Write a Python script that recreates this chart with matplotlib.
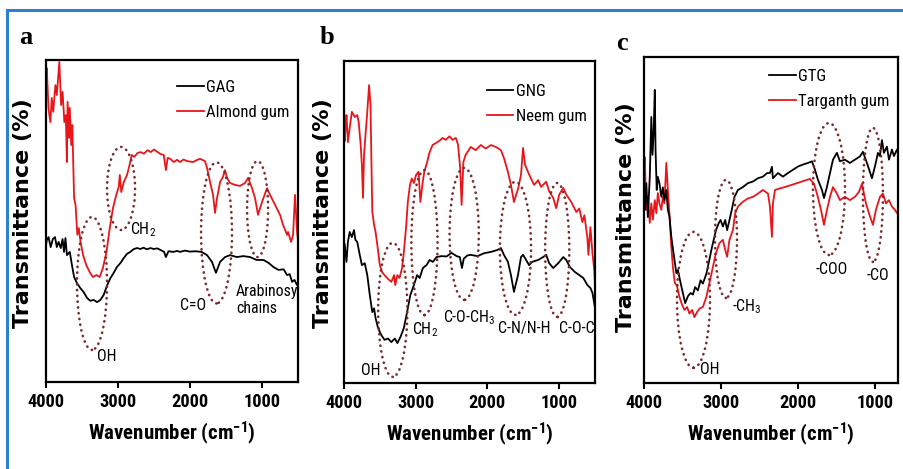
import matplotlib
matplotlib.use("Agg")
import matplotlib.pyplot as plt
from matplotlib import font_manager
from matplotlib.patches import Ellipse
from matplotlib.lines import Line2D

# use a condensed sans when one is installed, otherwise Liberation Sans at smaller sizes
names = {f.name for f in font_manager.fontManager.ttflist}
sans, k = "Liberation Sans", 1.0
for cand in ("Liberation Sans Narrow", "Roboto Condensed", "Open Sans Condensed"):
    if cand in names:
        sans, k = cand, 1.2
        break
plt.rcParams["font.family"] = [sans, "DejaVu Sans"]
plt.rcParams["mathtext.fontset"] = "custom"
plt.rcParams["mathtext.rm"] = sans
plt.rcParams["mathtext.it"] = sans
plt.rcParams["mathtext.bf"] = sans + ":bold"

# ---- spectra: (wavenumber cm-1, transmittance a.u.) ----
gag = [(4000, 42.5), (3990, 44), (3965, 45), (3935, 41.9), (3905, 44.4), (3875, 45), (3850, 41.9),
       (3825, 43.5), (3795, 41.6), (3770, 44.4), (3750, 40.4), (3730, 44.7), (3710, 39.4), (3670, 40.4),
       (3640, 36.3), (3610, 32.6), (3570, 30.7), (3525, 29.2), (3480, 28), (3430, 26.1), (3385, 25.2),
       (3340, 25.5), (3290, 24.8), (3245, 25.5), (3200, 27), (3150, 30.1), (3105, 32.3), (3060, 33.9),
       (3015, 35.7), (2965, 37), (2920, 38.5), (2875, 39.8), (2830, 40.4), (2780, 41.3), (2735, 41.6),
       (2690, 41.3), (2645, 41.7), (2600, 41.2), (2550, 41.6), (2505, 41.3), (2455, 41.5), (2410, 41),
       (2360, 40.4), (2335, 38.8), (2300, 40.6), (2230, 40.4), (2180, 40.7), (2139, 40.4), (2070, 40.8),
       (2000, 40.5), (1920, 40.6), (1840, 40.4), (1764, 39.4), (1695, 37.3), (1640, 33.9), (1583, 37.3),
       (1514, 38.8), (1444, 39.4), (1350, 38.8), (1260, 39.1), (1167, 38.8), (1075, 37.9), (980, 37.9),
       (910, 37), (841, 35.7), (772, 34.8), (700, 35), (653, 33.2), (616, 33.5), (583, 31.1), (550, 31.7),
       (514, 30.1), (500, 31)]

almond = [(4000, 90), (3990, 97.5), (3965, 85), (3940, 80.7), (3920, 88.2), (3900, 83.9), (3870, 92.2),
          (3850, 89.1), (3815, 99.4), (3790, 86), (3770, 90.1), (3745, 80.7), (3725, 82.9), (3710, 68.3),
          (3700, 87), (3680, 75.8), (3670, 85.1), (3650, 73.6), (3635, 79.8), (3610, 57.1), (3590, 55),
          (3565, 45.7), (3545, 47.8), (3520, 43.5), (3485, 39.4), (3440, 36.3), (3395, 34.2), (3350, 32.6),
          (3300, 33.2), (3255, 32.6), (3210, 35.4), (3160, 40.4), (3115, 47.8), (3070, 54), (3025, 58.1),
          (2990, 60.6), (2975, 64.3), (2955, 59), (2920, 62.1), (2875, 64.3), (2840, 67.4), (2810, 70.5),
          (2775, 69.9), (2730, 71.1), (2685, 71.4), (2640, 70.9), (2590, 72), (2545, 71.4), (2500, 72.2),
          (2455, 71.5), (2410, 70.8), (2365, 70.5), (2335, 65.8), (2310, 69.6), (2275, 69.3), (2225, 68.3),
          (2180, 69), (2139, 68.3), (2090, 69.1), (2042, 68.6), (1958, 68.3), (1900, 69), (1861, 69.3),
          (1792, 68.6), (1764, 66.5), (1722, 62.1), (1680, 58.1), (1653, 52.5), (1625, 57.1), (1583, 62.1),
          (1542, 63.7), (1514, 65.8), (1486, 63.4), (1444, 61.8), (1375, 61.2), (1306, 60.9), (1236, 61.8),
          (1194, 63.4), (1139, 60.2), (1097, 57.1), (1056, 51.9), (1000, 55.9), (931, 60.2), (889, 58.1),
          (819, 55), (750, 51.9), (708, 48.8), (653, 45.7), (639, 46.6), (597, 43.5), (569, 45.7),
          (556, 51.9), (542, 58.1), (514, 46.6), (500, 44)]

gng = [(4000, 43.8), (3990, 43), (3965, 37.6), (3945, 43.8), (3920, 46.9), (3890, 45.3), (3860, 47.5),
       (3840, 44.4), (3815, 43.8), (3780, 39.8), (3750, 36.6), (3710, 37.2), (3675, 33.5), (3640, 27.3),
       (3605, 22), (3580, 23.2), (3560, 20.2), (3525, 17.1), (3480, 14.9), (3435, 13.4), (3385, 13.8),
       (3340, 12.7), (3290, 13.8), (3255, 12.4), (3210, 14.4), (3165, 17.1), (3120, 22), (3075, 27.3),
       (3025, 30.4), (2980, 33.5), (2945, 32.6), (2900, 35.7), (2850, 36.6), (2805, 38.2), (2760, 37.6),
       (2710, 39.1), (2640, 39.4), (2570, 39.3), (2500, 40.4), (2430, 39.4), (2385, 39.1), (2355, 35.7),
       (2330, 38.6), (2280, 39.6), (2233, 39.8), (2140, 39.4), (2045, 40.3), (1952, 40.7), (1860, 41.3),
       (1812, 41.9), (1770, 39.8), (1714, 37.6), (1672, 33.5), (1630, 28.3), (1574, 33.5), (1532, 39.1),
       (1503, 39.8), (1461, 38.2), (1419, 36.6), (1377, 37.6), (1293, 38.2), (1223, 39.1), (1181, 39.8),
       (1139, 37.2), (1083, 35.7), (1013, 37.2), (943, 39.1), (901, 38.2), (850, 36), (782, 34.5),
       (719, 33.5), (663, 32.6), (606, 30.4), (564, 29.5), (536, 28), (500, 23.3)]

neem = [(4000, 90), (3992, 75), (3975, 80), (3965, 83.2), (3945, 74.8), (3920, 79.2), (3890, 84.2),
        (3850, 82.6), (3815, 83.2), (3795, 81.1), (3767, 73.9), (3750, 67.7), (3735, 57.5), (3720, 70.8),
        (3700, 77), (3675, 84.2), (3650, 92.5), (3630, 86.3), (3615, 65.5), (3605, 53.1), (3580, 49.1),
        (3560, 47), (3535, 42.9), (3500, 36.6), (3470, 34.5), (3435, 33.5), (3385, 32.3), (3340, 31.4),
        (3300, 33.5), (3285, 30.4), (3255, 33.5), (3225, 32.6), (3190, 35.7), (3165, 40.7), (3135, 48.1),
        (3110, 56.2), (3080, 61.5), (3055, 63.5), (3025, 62.1), (2995, 64.6), (2960, 65.6), (2935, 56.2),
        (2900, 62.7), (2880, 65.6), (2840, 68.6), (2810, 71.4), (2765, 73.9), (2720, 74.5), (2670, 75.2),
        (2625, 76.1), (2580, 75.5), (2530, 76.6), (2485, 75.5), (2440, 76.1), (2410, 74), (2380, 66.8),
        (2360, 55.3), (2335, 68.6), (2305, 70.8), (2233, 73.3), (2163, 72.3), (2093, 73.9), (2022, 72.8),
        (1952, 73.9), (1882, 73.3), (1812, 72.3), (1770, 69.9), (1714, 65.5), (1672, 61.5), (1630, 56.2),
        (1574, 60.2), (1532, 64.6), (1503, 73), (1475, 67.7), (1433, 65.5), (1391, 63.4), (1349, 61.5),
        (1293, 63), (1251, 60.9), (1181, 62.5), (1139, 59.5), (1083, 57.5), (1041, 54.3), (999, 58.5),
        (943, 60.6), (901, 58.5), (831, 56.2), (761, 53.1), (719, 54.2), (677, 50), (648, 52.1),
        (606, 45), (592, 39.8), (564, 48.4), (536, 40.4), (508, 34.5), (500, 29.5)]

gtg = [(4000, 54), (3990, 53.1), (3970, 61.3), (3950, 50.9), (3925, 63.2), (3905, 81.6), (3890, 70),
       (3875, 76.7), (3860, 89.9), (3850, 71.5), (3835, 59.2), (3820, 63.2), (3800, 61.3), (3775, 57.1),
       (3755, 60), (3735, 56.1), (3710, 59.2), (3690, 53.1), (3670, 51.1), (3645, 44.8), (3610, 38.7),
       (3580, 33.7), (3560, 34.7), (3525, 30.7), (3495, 27.6), (3465, 24.5), (3430, 26.6), (3395, 27.6),
       (3365, 27.1), (3335, 29.4), (3300, 28.4), (3265, 31.5), (3235, 30.5), (3190, 33.5), (3160, 36.8),
       (3125, 40.8), (3095, 43.9), (3065, 46.9), (3030, 49), (3005, 50), (2975, 48), (2945, 50),
       (2920, 46.9), (2890, 50), (2860, 53.1), (2825, 57.1), (2780, 59.2), (2715, 60.1), (2650, 61.3),
       (2585, 61.8), (2520, 62.8), (2455, 63.3), (2400, 64.4), (2364, 64.4), (2338, 66.3), (2325, 62.8),
       (2260, 64.4), (2195, 63.3), (2130, 64.4), (2065, 65.4), (2000, 66.4), (1935, 67), (1870, 67.5),
       (1818, 68), (1779, 65.4), (1740, 62.3), (1688, 59.2), (1662, 56.7), (1623, 60.2), (1584, 64.4),
       (1545, 68.5), (1494, 70.6), (1455, 68), (1390, 68.5), (1325, 67.5), (1260, 68.5), (1195, 69.5),
       (1156, 70.9), (1104, 67.5), (1065, 64.7), (1039, 62.8), (1000, 66.4), (961, 70.6), (935, 69.6),
       (909, 74.5), (883, 70.6), (844, 72.5), (818, 68.5), (779, 71.6), (753, 69.6), (714, 71.6),
       (700, 70.5)]

targanth = [(4000, 60), (3990, 69.3), (3970, 53.1), (3950, 57.1), (3925, 49.1), (3905, 55.1), (3885, 50.1),
            (3860, 56.1), (3840, 52.1), (3820, 58.3), (3800, 55.1), (3775, 53.1), (3755, 57.1), (3735, 55.1),
            (3710, 67.5), (3690, 59.2), (3670, 52.1), (3645, 41.7), (3625, 35.6), (3600, 30.7), (3570, 29.7),
            (3540, 26.4), (3510, 24.3), (3475, 22.4), (3440, 23.3), (3410, 21.3), (3375, 22.4), (3345, 20.2),
            (3310, 21.8), (3275, 22.9), (3235, 23.3), (3190, 26.4), (3150, 30.7), (3105, 35.6), (3065, 39.9),
            (3020, 42.9), (2975, 43.9), (2945, 40.8), (2920, 38.7), (2890, 43.9), (2845, 46.9), (2815, 52.1),
            (2780, 54.1), (2715, 55.6), (2650, 56.6), (2585, 57.1), (2520, 58.1), (2455, 59.2), (2390, 58.1),
            (2364, 54.1), (2338, 44.8), (2325, 55.1), (2299, 59.2), (2234, 59.7), (2169, 60.1), (2104, 60.6),
            (2039, 61.1), (1974, 61.6), (1909, 62.1), (1844, 62.6), (1792, 61.1), (1753, 58.1), (1701, 53.1),
            (1662, 48.5), (1623, 53.1), (1584, 57.1), (1545, 60.1), (1494, 58.1), (1455, 56.1), (1390, 57.1),
            (1325, 56.1), (1260, 57.1), (1208, 58.6), (1169, 61.1), (1117, 55.1), (1065, 51.1), (1026, 48.5),
            (987, 53.1), (935, 57.1), (896, 58.1), (857, 55.1), (818, 56.1), (779, 54.1), (740, 53.1),
            (714, 52.1), (700, 53)]

# band assignments: (centre wn, centre T, width wn, height T)
bands_a = [(3361, 30.6, 417, 41.3), (2958, 60.1, 389, 25.8), (1632, 46.3, 430, 43.8), (1062, 53.7, 292, 29.8)]
bands_b = [(3320, 22.7, 407, 41.6), (2878, 43.6, 365, 45), (2324, 46.3, 407, 41),
           (1609, 41.8, 435, 41.3), (1027, 41.3, 337, 41.6)]
bands_c = [(3357, 25.5, 429, 41.7), (2935, 44.2, 286, 36.2), (1597, 59.5, 416, 40.5), (1026, 57.7, 260, 41.1)]

labels_a = [("CH$_2$", 2653, 47.2), ("C=O", 1958, 23.9), ("OH", 3153, 7.8)]
labels_b = [("OH", 3621, 4), ("CH$_2$", 2864, 16.5), ("C-O-CH$_3$", 2260, 20.2),
            ("C-N/N-H", 1480, 17), ("C-O-C", 760, 17)]
labels_c = [("OH", 3143, 4), ("-CH$_3$", 2662, 23.3), ("-COO", 1558, 34.7), ("-CO", 961, 33.1)]

panels = [
    ("a", gag, almond, "GAG", "Almond gum", bands_a, labels_a, 500,
     [0.0509, 0.1855, 0.2788, 0.6866], (-0.052, 0.525), (0.029, 0.921), 0.965),
    ("b", gng, neem, "GNG", "Neem gum", bands_b, labels_b, 500,
     [0.3805, 0.1834, 0.2777, 0.6866], (-0.044, 0.528), (0.362, 0.919), 0.955),
    ("c", gtg, targanth, "GTG", "Targanth gum", bands_c, labels_c, 700,
     [0.7124, 0.1834, 0.2810, 0.6951], (-0.031, 0.510), (0.688, 0.908), 0.99),
]

RED = "#e8161b"
DOTS = "#7a2b2b"

fig = plt.figure(figsize=(9.04, 4.69), dpi=100)

for letter, black, red, black_name, red_name, bands, labels, xmin, rect, ylab_xy, letter_xy, leg_y in panels:
    ax = fig.add_axes(rect)
    ax.plot([p[0] for p in black], [p[1] for p in black], color="black", lw=1.3, label=black_name, zorder=3)
    ax.plot([p[0] for p in red], [p[1] for p in red], color=RED, lw=1.3, label=red_name, zorder=2)

    for cx, cy, w, h in bands:
        ax.add_patch(Ellipse((cx, cy), w, h, fill=False, edgecolor=DOTS, lw=1.9,
                             linestyle=(0, (0.1, 2.1)), capstyle="round", zorder=4))
    for txt, x, y in labels:
        ax.text(x, y, txt, fontsize=9.5 * k, ha="center", va="center", clip_on=True, zorder=5)

    if letter == "a":
        ax.text(1361, 25.5, "Arabinosyl\nchains", fontsize=9.5 * k, ha="left", va="center",
                linespacing=1.15, clip_on=True, zorder=5)

    ax.set_xlim(4000, xmin)
    ax.set_ylim(0, 100)
    ax.set_xticks([4000, 3000, 2000, 1000])
    ax.set_yticks([])
    ax.tick_params(axis="x", direction="out", length=4, width=1.5, labelsize=11 * k, pad=4)
    for lab in ax.get_xticklabels():
        lab.set_fontweight("bold")
    for s in ax.spines.values():
        s.set_linewidth(1.6)

    ax.set_xlabel(r"Wavenumber (cm$^{\mathbf{-1}}$)", fontsize=12.5 * k, fontweight="bold", labelpad=6)
    ax.set_ylabel("Transmittance (%)", fontsize=16, fontweight="bold", family="DejaVu Sans")
    ax.yaxis.set_label_coords(*ylab_xy)

    ax.legend(loc="upper right", bbox_to_anchor=(1.0, leg_y), frameon=False, fontsize=10 * k,
              handlelength=1.6, handletextpad=0.15, labelspacing=0.6, borderpad=0.1, borderaxespad=0.4)

    fig.text(letter_xy[0], letter_xy[1], letter, fontsize=19, fontweight="bold", family="Liberation Serif",
             ha="center", va="center")

# blue frame along the left and top edges
fig.add_artist(Line2D([7 / 904, 7 / 904], [0, 1 - 10 / 469], color="#2c7fd2", lw=2.2, transform=fig.transFigure))
fig.add_artist(Line2D([7 / 904, 1], [1 - 10 / 469, 1 - 10 / 469], color="#2c7fd2", lw=2.2, transform=fig.transFigure))

fig.savefig("out.png", dpi=100)
